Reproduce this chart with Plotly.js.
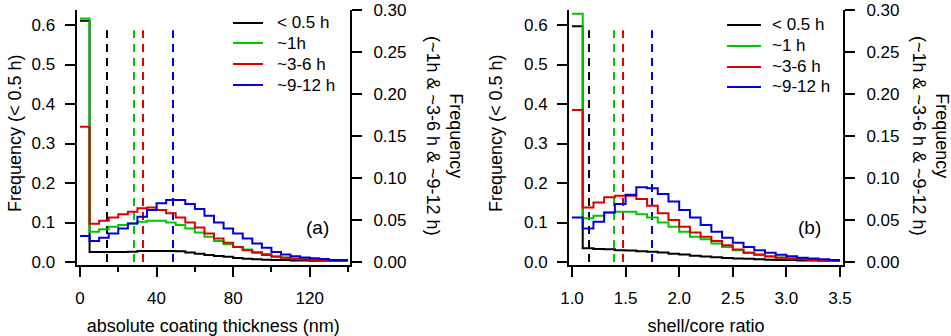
<!DOCTYPE html>
<html>
<head>
<meta charset="utf-8">
<script src="https://cdn.plot.ly/plotly-3.0.1.min.js"></script>
<style>
  html, body { margin: 0; padding: 0; background: #fff; }
  #chart { width: 951px; height: 336px; }
</style>
</head>
<body>
<div id="chart"></div>
<script>
// bin edges
var thickEdges = [0, 5, 10, 15, 20, 25, 30, 35, 40, 45, 50, 55, 60, 65, 70, 75, 80, 85, 90, 95, 100,
                  105, 110, 115, 120, 125, 130, 135, 140];
var ratioEdges = [1.0, 1.1, 1.2, 1.3, 1.4, 1.5, 1.6, 1.7, 1.8, 1.9, 2.0, 2.1, 2.2, 2.3, 2.4, 2.5,
                  2.6, 2.7, 2.8, 2.9, 3.0, 3.1, 3.2, 3.3, 3.4, 3.5];

var seriesNames = ['< 0.5 h', '~1h', '~3-6 h', '~9-12 h'];
var seriesNamesB = ['< 0.5 h', '~1 h', '~3-6 h', '~9-12 h'];
var colors = ['#000000', '#00c800', '#dd0000', '#0000dd'];

// (a) absolute coating thickness
var thick05 = [0.611, 0.025, 0.025, 0.025, 0.025, 0.026, 0.028, 0.028, 0.028, 0.028, 0.027, 0.024, 0.021, 0.018,
               0.015, 0.013, 0.010, 0.008, 0.007, 0.006, 0.005, 0.005, 0.004, 0.004, 0.003, 0.003, 0.003, 0.003];
var thick1 = [0.290, 0.036, 0.039, 0.042, 0.044, 0.046, 0.048, 0.049, 0.049, 0.047, 0.044, 0.040, 0.035, 0.030,
              0.025, 0.021, 0.018, 0.015, 0.012, 0.0094, 0.007, 0.0055, 0.0043, 0.0035, 0.0025, 0.002, 0.0017, 0.0015];
var thick36 = [0.161, 0.0455, 0.049, 0.053, 0.057, 0.060, 0.064, 0.065, 0.062, 0.058, 0.053, 0.047, 0.041, 0.034,
               0.028, 0.023, 0.018, 0.014, 0.011, 0.0082, 0.0063, 0.005, 0.0039, 0.003, 0.0024, 0.002, 0.0016, 0.0015];
var thick912 = [0.031, 0.025, 0.029, 0.034, 0.040, 0.046, 0.054, 0.062, 0.070, 0.074, 0.074, 0.069, 0.063, 0.055,
                0.047, 0.040, 0.034, 0.028, 0.022, 0.017, 0.012, 0.009, 0.007, 0.0055, 0.0045, 0.0035, 0.0025, 0.0025];
var thickMeans = [14.1, 28.2, 32.9, 48.6];

// (b) shell/core ratio
var ratio05 = [0.597, 0.035, 0.033, 0.032, 0.030, 0.029, 0.027, 0.026, 0.024, 0.021, 0.019, 0.016, 0.014,
               0.012, 0.010, 0.009, 0.008, 0.007, 0.006, 0.005, 0.005, 0.004, 0.004, 0.003, 0.003];
var ratio1 = [0.2956, 0.052, 0.055, 0.059, 0.060, 0.060, 0.057, 0.053, 0.047, 0.042, 0.036, 0.030, 0.027,
              0.022, 0.018, 0.014, 0.011, 0.009, 0.007, 0.0055, 0.0045, 0.0035, 0.0027, 0.002, 0.0016];
var ratio36 = [0.181, 0.065, 0.071, 0.077, 0.079, 0.079, 0.075, 0.067, 0.058, 0.050, 0.042, 0.035, 0.030,
               0.025, 0.020, 0.015, 0.011, 0.0085, 0.0065, 0.005, 0.004, 0.0032, 0.0025, 0.002, 0.0015];
var ratio912 = [0.053, 0.040, 0.048, 0.059, 0.069, 0.080, 0.089, 0.088, 0.081, 0.072, 0.062, 0.053, 0.044,
                0.036, 0.029, 0.023, 0.018, 0.014, 0.011, 0.0085, 0.0068, 0.0052, 0.0042, 0.0033, 0.0025];
var ratioMeans = [1.159, 1.392, 1.476, 1.746];

var meanTop = 0.587;

var font = 'Arial, "Liberation Sans", sans-serif';
var W = 951, H = 336;

function step(edges, vals, i, xa, ya) {
    return {
        x: edges,
        y: vals.concat([vals[vals.length - 1]]),
        xaxis: xa, yaxis: ya,
        type: 'scatter', mode: 'lines',
        line: {shape: 'hv', color: colors[i], width: 2},
        showlegend: false,
        hoverinfo: 'skip'
    };
}
function meanLine(xv, i, xa, ya) {
    return {
        x: [xv, xv], y: [0, meanTop],
        xaxis: xa, yaxis: ya,
        type: 'scatter', mode: 'lines',
        line: {color: colors[i], width: 2, dash: '8px,6px'},
        showlegend: false,
        hoverinfo: 'skip'
    };
}

var data = [];
for (var i = 0; i < 4; i++) data.push(meanLine(thickMeans[i], i, 'x', 'y'));
for (var i = 0; i < 4; i++) data.push(meanLine(ratioMeans[i], i, 'x2', 'y3'));
data.push(step(thickEdges, thick05, 0, 'x', 'y'));
data.push(step(thickEdges, thick1, 1, 'x', 'y2'));
data.push(step(thickEdges, thick36, 2, 'x', 'y2'));
data.push(step(thickEdges, thick912, 3, 'x', 'y2'));
data.push(step(ratioEdges, ratio05, 0, 'x2', 'y3'));
data.push(step(ratioEdges, ratio1, 1, 'x2', 'y4'));
data.push(step(ratioEdges, ratio36, 2, 'x2', 'y4'));
data.push(step(ratioEdges, ratio912, 3, 'x2', 'y4'));

// plot box: top 10 px, bottom 265 px; zero sits 3 px above the bottom
var yDom = [(H - 265) / H, (H - 10) / H];

var axBase = {
    showline: true, linecolor: '#000', linewidth: 2,
    ticks: 'outside', ticklen: 10, tickwidth: 2, tickcolor: '#000',
    showgrid: false, zeroline: false,
    ticklabeloverflow: 'allow',
    tickfont: {family: font, size: 17, color: '#000'},
    fixedrange: true
};
function ax(extra) { return Object.assign({}, axBase, extra); }

var shapes = [];
var annotations = [];

// legends drawn by hand (line + label)
var legRowsA = [23, 43, 64, 85];
var legRowsB = [25, 46, 67, 87];
function addLegend(names, rows, x0, x1, xt) {
    for (var i = 0; i < names.length; i++) {
        shapes.push({type: 'line', xref: 'paper', yref: 'paper',
            x0: x0 / W, x1: x1 / W, y0: (H - rows[i]) / H, y1: (H - rows[i]) / H,
            line: {color: colors[i], width: 2}});
        annotations.push({text: names[i], xref: 'paper', yref: 'paper',
            x: xt / W, y: (H - rows[i]) / H, xanchor: 'left', yanchor: 'middle',
            showarrow: false, font: {family: font, size: 17, color: '#000'}});
    }
}
addLegend(seriesNames, legRowsA, 233, 263, 275);
addLegend(seriesNamesB, legRowsB, 727, 761, 770);

var rightTitle = 'Frequency<br>(~1h &amp; ~3-6 h &amp; ~9-12 h)';
var leftTitle = 'Frequency (&lt; 0.5 h)';
annotations.push(
    {text: '(a)', xref: 'x domain', yref: 'y domain', x: 0.93, y: 0.097,
     showarrow: false, font: {family: font, size: 19, color: '#000'}},
    {text: '(b)', xref: 'x2 domain', yref: 'y3 domain', x: 0.927, y: 0.097,
     showarrow: false, font: {family: font, size: 19, color: '#000'}},
    {text: leftTitle, xref: 'paper', yref: 'paper', x: 15 / W, y: (H - 133) / H,
     xanchor: 'center', yanchor: 'middle', textangle: -90, showarrow: false,
     font: {family: font, size: 18, color: '#000'}},
    {text: leftTitle, xref: 'paper', yref: 'paper', x: 496 / W, y: (H - 133) / H,
     xanchor: 'center', yanchor: 'middle', textangle: -90, showarrow: false,
     font: {family: font, size: 18, color: '#000'}},
    {text: rightTitle, xref: 'paper', yref: 'paper', x: 445 / W, y: (H - 136) / H,
     xanchor: 'center', yanchor: 'middle', textangle: 90, showarrow: false,
     font: {family: font, size: 18, color: '#000'}},
    {text: rightTitle, xref: 'paper', yref: 'paper', x: 931 / W, y: (H - 136) / H,
     xanchor: 'center', yanchor: 'middle', textangle: 90, showarrow: false,
     font: {family: font, size: 18, color: '#000'}}
);

var leftRange = [-0.0076, 0.638];
var rightRange = [-0.00357, 0.3002];

var layout = {
    width: W, height: H,
    margin: {l: 0, r: 0, t: 0, b: 0},
    paper_bgcolor: '#fff', plot_bgcolor: '#fff',
    font: {family: font, size: 17, color: '#000'},
    showlegend: false,
    xaxis: ax({
        domain: [76.5 / W, 350 / W], anchor: 'y', range: [-1.83, 141.05],
        tick0: 0, dtick: 40, ticklabelstandoff: 7,
        minor: {dtick: 20, ticks: 'outside', ticklen: 5, tickwidth: 2, tickcolor: '#000'},
        title: {text: 'absolute coating thickness (nm)', standoff: 12, font: {family: font, size: 18}}
    }),
    yaxis: ax({
        domain: yDom, anchor: 'x', range: leftRange,
        tick0: 0, dtick: 0.1, tickformat: '.1f', ticklabelstandoff: 6
    }),
    yaxis2: ax({
        overlaying: 'y', side: 'right', anchor: 'x', range: rightRange,
        tick0: 0, dtick: 0.05, tickformat: '.2f', ticklabelstandoff: 8
    }),
    xaxis2: ax({
        domain: [569 / W, 843 / W], anchor: 'y3', range: [0.972, 3.528],
        tick0: 1, dtick: 0.5, tickformat: '.1f', ticklabelstandoff: 7,
        title: {text: 'shell/core ratio', standoff: 12, font: {family: font, size: 18}}
    }),
    yaxis3: ax({
        domain: yDom, anchor: 'x2', range: leftRange,
        tick0: 0, dtick: 0.1, tickformat: '.1f', ticklabelstandoff: 6
    }),
    yaxis4: ax({
        overlaying: 'y3', side: 'right', anchor: 'x2', range: rightRange,
        tick0: 0, dtick: 0.05, tickformat: '.2f', ticklabelstandoff: 8
    }),
    shapes: shapes,
    annotations: annotations
};

Plotly.newPlot('chart', data, layout, {displayModeBar: false, staticPlot: true});
</script>
</body>
</html>
